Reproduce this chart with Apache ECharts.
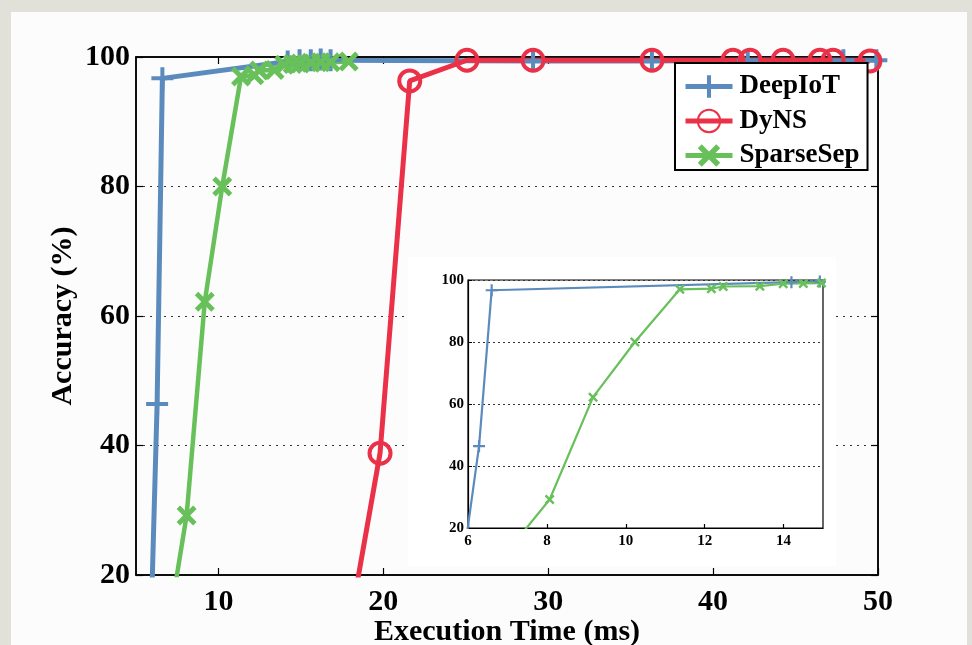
<!DOCTYPE html>
<html>
<head>
<meta charset="utf-8">
<script src="https://cdn.jsdelivr.net/npm/echarts@6/dist/echarts.min.js"></script>
<style>
  html, body { margin: 0; padding: 0; }
  body { width: 972px; height: 645px; background: #e1e1da; position: relative; overflow: hidden; }
  #panel { position: absolute; left: 11px; top: 12px; width: 956px; height: 633px; background: #fcfcfc; }
  #chart { position: absolute; left: 0; top: 0; width: 972px; height: 645px; }
</style>
</head>
<body>
<div id="panel"></div>
<div id="chart"></div>
<script>
// Accuracy (%) versus execution time (ms) for three compression methods.
const seriesNames = ['DeepIoT', 'DyNS', 'SparseSep'];

const deepIoT = [
  [5.83, 5], [6.28, 46.4], [6.6, 96.7], [14.2, 99.3], [14.92, 99.5], [15.6, 99.5],
  [16.2, 99.6], [16.8, 99.5], [29.08, 99.4], [36.29, 99.4], [42.1, 99.5], [47.9, 99.5], [49.9, 99.5]
];
const dyNS = [
  [17.46, 5], [19.8, 38.8], [21.6, 96.3], [25.07, 99.5], [29.08, 99.5], [36.29, 99.5],
  [41.2, 99.5], [42.24, 99.5], [44.24, 99.5], [46.48, 99.5], [47.27, 99.5], [49.51, 99.4]
];
const sparseSep = [
  [7.1, 14], [8.07, 29.2], [9.17, 62.2], [10.23, 80.0], [11.37, 97.0], [12.17, 97.2],
  [12.47, 97.9], [13.4, 98.0], [13.99, 98.8], [14.5, 98.9], [14.96, 99.0], [15.6, 99.1],
  [16.2, 99.2], [16.8, 99.2], [17.9, 99.3]
];

// axis ranges and tick labels
const mainXRange = [5, 50];
const mainXTicks = [10, 20, 30, 40, 50];
const mainYRange = [20, 100];
const insetXRange = [6, 15];
const insetXTicks = [6, 8, 10, 12, 14];
const insetYRange = [20, 100];

const BLUE = '#5b8bbd';
const RED = '#ea3147';
const GREEN = '#68c05a';
const FONT = '"Liberation Serif", "Times New Roman", serif';

const PLUS = 'path://M0,9H9V0H13V9H22V13H13V22H9V13H0Z';
const CROSS = 'path://M0,3.5L3.5,0L10,6.5L16.5,0L20,3.5L13.5,10L20,16.5L16.5,20L10,13.5L3.5,20L0,16.5L6.5,10Z';

const chart = echarts.init(document.getElementById('chart'), null, { renderer: 'canvas' });

const tickInside = (len, vals) => ({ show: true, inside: true, length: len, customValues: vals, lineStyle: { color: '#000', width: 1.2 } });

const option = {
  backgroundColor: 'transparent',
  animation: false,
  grid: [
    { left: 136, top: 57, right: 94, bottom: 70, outerBoundsMode: 'none', containLabel: false,
      show: true, backgroundColor: 'transparent', borderColor: '#000', borderWidth: 1.5, z: 0 },
    { left: 468, top: 280, width: 355, height: 248, outerBoundsMode: 'none', containLabel: false,
      show: true, backgroundColor: '#ffffff', borderColor: '#000', borderWidth: 1.2, z: 3 }
  ],
  graphic: [
    { type: 'rect', shape: { x: 408, y: 257, width: 428, height: 309 }, style: { fill: '#ffffff' }, z: 1, silent: true }
  ],
  legend: {
    data: [
      { name: 'DeepIoT', lineStyle: { width: 5 } },
      { name: 'DyNS', lineStyle: { width: 5 } },
      { name: 'SparseSep', lineStyle: { width: 5 } }
    ],
    orient: 'vertical',
    left: 675, top: 63,
    padding: [10, 8, 1, 8],
    itemWidth: 47, itemHeight: 28, itemGap: 7.5,
    backgroundColor: '#ffffff',
    borderColor: '#000', borderWidth: 2,
    textStyle: { fontFamily: FONT, fontWeight: 'bold', fontSize: 27, color: '#000', padding: [0, 0, 0, 2] },
    z: 10
  },
  xAxis: [
    {
      type: 'value', gridIndex: 0, min: mainXRange[0], max: mainXRange[1], position: 'bottom',
      axisLine: { show: true, onZero: false, lineStyle: { color: '#000', width: 1.5 } },
      axisTick: tickInside(7, mainXTicks),
      axisLabel: { customValues: mainXTicks, fontFamily: FONT, fontWeight: 'bold', fontSize: 30, color: '#000', margin: 12 },
      splitLine: { show: false },
      name: 'Execution Time (ms)', nameLocation: 'middle', nameGap: 42, nameMoveOverlap: false,
      nameTextStyle: { fontFamily: FONT, fontWeight: 'bold', fontSize: 30, color: '#000' }
    },
    {
      type: 'value', gridIndex: 0, min: mainXRange[0], max: mainXRange[1], position: 'top',
      axisLine: { show: true, onZero: false, lineStyle: { color: '#000', width: 1.5 } },
      axisTick: tickInside(7, mainXTicks),
      axisLabel: { show: false },
      splitLine: { show: false }
    },
    {
      type: 'value', gridIndex: 1, min: insetXRange[0], max: insetXRange[1], position: 'bottom',
      axisLine: { show: true, onZero: false, lineStyle: { color: '#000', width: 1.2 } },
      axisTick: tickInside(4, insetXTicks),
      axisLabel: { customValues: insetXTicks, fontFamily: FONT, fontWeight: 'bold', fontSize: 15, color: '#000', margin: 6 },
      splitLine: { show: false },
      z: 3
    }
  ],
  yAxis: [
    {
      type: 'value', gridIndex: 0, min: mainYRange[0], max: mainYRange[1], interval: 20, position: 'left',
      axisLine: { show: true, onZero: false, lineStyle: { color: '#000', width: 1.5 } },
      axisTick: { show: true, inside: true, length: 7, lineStyle: { color: '#000', width: 1.2 } },
      axisLabel: { fontFamily: FONT, fontWeight: 'bold', fontSize: 30, color: '#000', margin: 6 },
      splitLine: { show: true, lineStyle: { color: '#333', width: 1.2, type: [2, 5] } },
      name: 'Accuracy (%)', nameLocation: 'middle', nameGap: 58, nameRotate: 90, nameMoveOverlap: false,
      nameTextStyle: { fontFamily: FONT, fontWeight: 'bold', fontSize: 30, color: '#000' }
    },
    {
      type: 'value', gridIndex: 0, min: mainYRange[0], max: mainYRange[1], interval: 20, position: 'right',
      axisLine: { show: true, onZero: false, lineStyle: { color: '#000', width: 1.5 } },
      axisTick: { show: true, inside: true, length: 7, lineStyle: { color: '#000', width: 1.2 } },
      axisLabel: { show: false },
      splitLine: { show: false }
    },
    {
      type: 'value', gridIndex: 1, min: insetYRange[0], max: insetYRange[1], interval: 20, position: 'left',
      axisLine: { show: true, onZero: false, lineStyle: { color: '#000', width: 1.2 } },
      axisTick: { show: true, inside: true, length: 4, lineStyle: { color: '#000', width: 1 } },
      axisLabel: { fontFamily: FONT, fontWeight: 'bold', fontSize: 15, color: '#000', margin: 4 },
      splitLine: { show: true, lineStyle: { color: '#333', width: 1.2, type: [2, 3] } },
      z: 3
    }
  ],
  series: [
    {
      name: 'DeepIoT', type: 'line', xAxisIndex: 0, yAxisIndex: 0, data: deepIoT, clip: true, z: 2,
      symbol: PLUS, symbolSize: 22, showAllSymbol: true,
      lineStyle: { color: BLUE, width: 5 },
      itemStyle: { color: BLUE, borderWidth: 0 }
    },
    {
      name: 'DyNS', type: 'line', xAxisIndex: 0, yAxisIndex: 0, data: dyNS, clip: true, z: 2,
      symbol: 'circle', symbolSize: 21, showAllSymbol: true,
      lineStyle: { color: RED, width: 5 },
      itemStyle: { color: 'rgba(0,0,0,0)', borderColor: RED, borderWidth: 4 }
    },
    {
      name: 'SparseSep', type: 'line', xAxisIndex: 0, yAxisIndex: 0, data: sparseSep, clip: true, z: 2,
      symbol: CROSS, symbolSize: 20, showAllSymbol: true,
      lineStyle: { color: GREEN, width: 4.5 },
      itemStyle: { color: GREEN, borderWidth: 0 }
    },
    {
      name: 'DeepIoT', type: 'line', xAxisIndex: 2, yAxisIndex: 2, data: deepIoT, clip: true, z: 4,
      symbol: PLUS, symbolSize: 12, showAllSymbol: true,
      lineStyle: { color: BLUE, width: 2.2 },
      itemStyle: { color: BLUE, borderWidth: 0 }
    },
    {
      name: 'SparseSep', type: 'line', xAxisIndex: 2, yAxisIndex: 2, data: sparseSep, clip: true, z: 4,
      symbol: CROSS, symbolSize: 10, showAllSymbol: true,
      lineStyle: { color: GREEN, width: 2.2 },
      itemStyle: { color: GREEN, borderWidth: 0 }
    }
  ]
};

chart.setOption(option);
</script>
</body>
</html>
